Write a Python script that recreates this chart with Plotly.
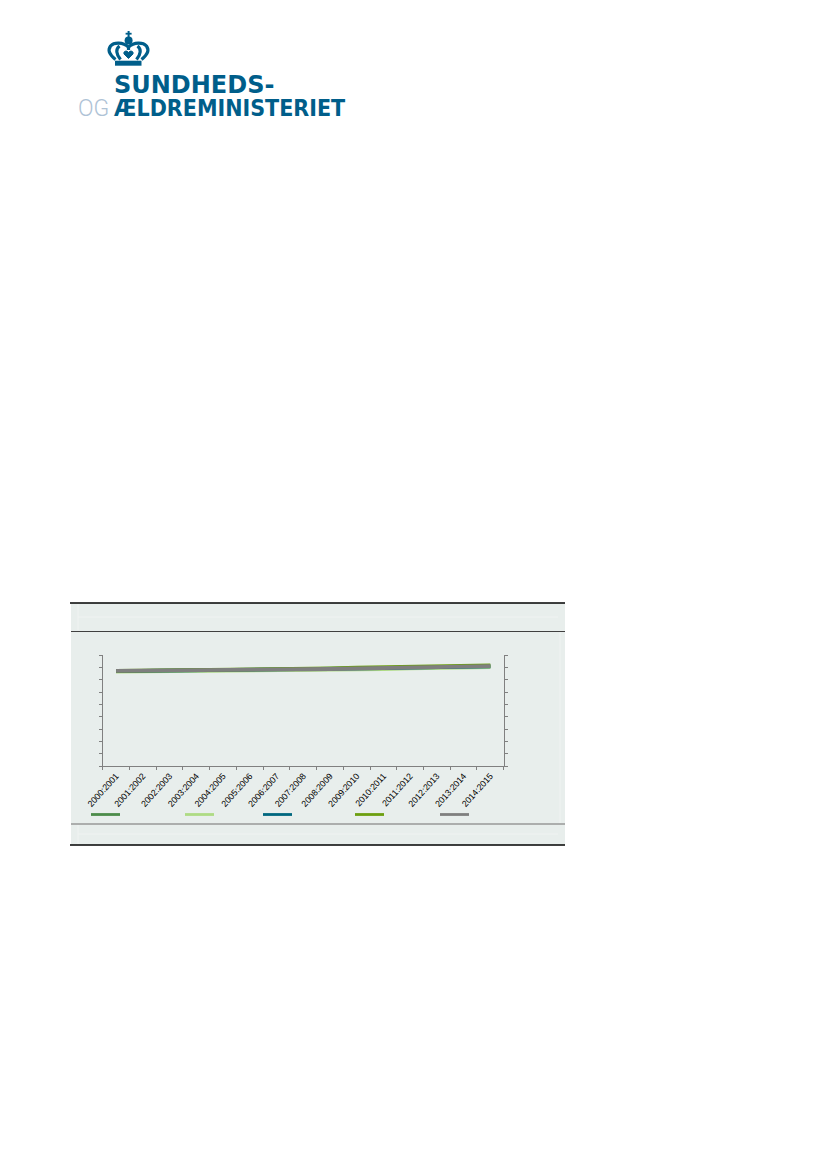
import re
import plotly.graph_objects as go

# values (labels are blanked in the source, axis taken as 0-90)
periods = ['2000:2001', '2001:2002', '2002:2003', '2003:2004', '2004:2005',
           '2005:2006', '2006:2007', '2007:2008', '2008:2009', '2009:2010',
           '2010:2011', '2011:2012', '2012:2013', '2013:2014', '2014:2015']
serie_1 = [77.2, 77.3, 77.5, 77.7, 77.8, 78.4, 78.5, 78.6, 78.8, 79.4, 79.7, 80.2, 80.4, 80.9, 81.1]
serie_2 = [76.7, 76.9, 77.1, 77.2, 77.3, 77.9, 78.0, 78.1, 78.2, 78.6, 78.9, 79.5, 79.8, 80.2, 80.4]
serie_3 = [77.1, 77.3, 77.5, 77.7, 77.9, 78.3, 78.5, 78.5, 78.8, 79.3, 79.6, 80.1, 80.3, 80.8, 81.0]
serie_4 = [77.3, 77.5, 77.9, 78.2, 78.4, 78.8, 78.9, 79.0, 79.3, 79.9, 80.3, 80.9, 80.9, 81.7, 81.9]
serie_5 = [77.3, 77.4, 77.6, 77.7, 77.9, 78.5, 78.6, 78.7, 78.9, 79.4, 79.7, 80.4, 80.5, 81.0, 81.2]
colors = ['#4C8C4A', '#AEDB84', '#00677F', '#6C9F10', '#7F7F7F']

W, H = 827, 1170
BG = '#E8EEEC'
BLUE = '#005E8A'
PALE = '#F0F3F2'

fig = go.Figure()
for s, c in zip([serie_1, serie_2, serie_3, serie_4, serie_5], colors):
    fig.add_trace(go.Scatter(x=periods, y=s, mode='lines', line=dict(color=c, width=3.8),
                             showlegend=False, hoverinfo='skip'))

# plot area in pixels
left, right, top, bottom = 102.7, 503.7, 655.3, 766.3


# page pixels to paper coordinates
def px(x):
    return x / W


def py(y):
    return 1 - y / H


def rect(x0, y0, x1, y1, color, layer='below'):
    return dict(type='rect', xref='paper', yref='paper', x0=px(x0), y0=py(y0), x1=px(x1), y1=py(y1),
                fillcolor=color, line_width=0, layer=layer)


def seg(x0, y0, x1, y1, color, w, layer='below'):
    return dict(type='line', xref='paper', yref='paper', x0=px(x0), y0=py(y0), x1=px(x1), y1=py(y1),
                line=dict(color=color, width=w), layer=layer)


def curve(path, width=3.2, fill=None):
    def conv(m):
        return '%.5f,%.5f' % (px(float(m.group(1))), py(float(m.group(2))))
    d = dict(type='path', xref='paper', yref='paper',
             path=re.sub(r'([\d.]+),([\d.]+)', conv, path),
             line=dict(color=BLUE, width=width))
    if fill:
        d['fillcolor'] = fill
    return d


shapes = [rect(71, 603, 565, 845, BG),
          seg(78, 617, 558, 617, PALE, 1),
          seg(78, 834, 558, 834, PALE, 1),
          seg(78, 604, 78, 630, PALE, 1),
          seg(78, 825, 78, 844, PALE, 1),
          seg(560, 632, 560, 823, PALE, 1),
          seg(70, 603, 565, 603, '#000000', 1.6),
          seg(71, 631.5, 565, 631.5, '#404040', 1),
          seg(71, 824, 565, 824, '#999999', 1.6),
          seg(70, 845, 565, 845, '#000000', 1.6)]

# legend keys, their texts are blank in the source
for x0, c in zip([91, 185, 263, 355, 440], colors):
    shapes.append(seg(x0, 814.5, x0 + 29, 814.5, c, 2.8, layer='above'))

# crown of the logo
shapes += [
    rect(115, 60.7, 141.5, 65.7, BLUE, 'above'),
    rect(127.6, 31, 129.6, 37, BLUE, 'above'),
    rect(125.6, 32.8, 131.6, 34.6, BLUE, 'above'),
    dict(type='circle', xref='paper', yref='paper', x0=px(124.6), x1=px(132.6), y0=py(44.4), y1=py(36.4),
         fillcolor=BLUE, line_width=0),
]
for p in ['M 128.5,47 C 123,42 114,42 110.5,46 C 107,51 111,56 115.5,59.5',
          'M 128.5,47 C 134,42 143,42 146.5,46 C 150,51 146,56 141.5,59.5',
          'M 120.5,59.5 C 116,54 115.5,49 119.5,46',
          'M 136.5,59.5 C 141,54 141.5,49 137.5,46',
          'M 128.5,45 L 128.5,50']:
    shapes.append(curve(p))
shapes.append(curve('M 128.5,58.5 L 124,54 C 123,51 127,50 128.5,52.5 C 130,50 134,51 133,54 Z',
                    width=1, fill=BLUE))

fig.update_layout(
    width=W, height=H, margin=dict(l=0, r=0, t=0, b=0),
    paper_bgcolor='white', plot_bgcolor='rgba(0,0,0,0)',
    font=dict(family='Liberation Sans', color='black'),
    shapes=shapes,
    xaxis=dict(domain=[px(left), px(right)], type='category', tickangle=-48,
               tickson='boundaries', ticks='outside', ticklen=3, tickwidth=1, tickcolor='#808080',
               showline=True, linecolor='#808080', linewidth=1.2, showgrid=False,
               tickfont=dict(size=8.8, color='black'), range=[-0.5, 14.5], automargin=False),
    yaxis=dict(domain=[py(bottom), py(top)], range=[0, 90], dtick=10,
               ticks='outside', ticklen=3, tickwidth=1, tickcolor='#808080', showticklabels=False,
               showline=True, linecolor='#808080', linewidth=1.2, mirror='ticks', showgrid=False,
               zeroline=False, automargin=False),
)

logo = [('SUNDHEDS-', 112.5, 85.5, BLUE, 'DejaVu Sans', 24, 700),
        ('ÆLDREMINISTERIET', 112.5, 108, BLUE, 'DejaVu Sans Condensed', 23, 700),
        ('OG', 76.5, 108, '#AFC3D6', 'Roboto', 23, 300)]
for txt, x, y, c, fam, size, wt in logo:
    fig.add_annotation(text=txt, xref='paper', yref='paper', x=px(x), y=py(y), xanchor='left',
                       yanchor='middle', showarrow=False, borderpad=0,
                       font=dict(family=fam, size=size, color=c, weight=wt))

fig.write_html("out.html", post_script="document.body.style.margin='0'",
               config=dict(displayModeBar=False))
